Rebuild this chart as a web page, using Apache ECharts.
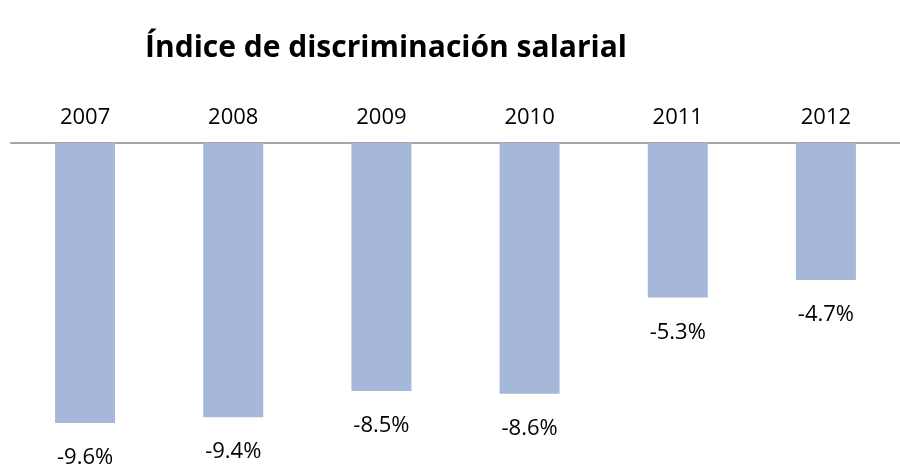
<!DOCTYPE html>
<html lang="es">
<head>
    <meta charset="UTF-8">
    <title>Índice de discriminación salarial</title>
    <style>
        body { margin: 0; padding: 0; background: #fff; }
        #chart { width: 900px; height: 464px; }
    </style>
    <script src="https://cdn.jsdelivr.net/npm/echarts@6/dist/echarts.min.js"></script>
</head>
<body>
<div id="chart"></div>
<script>
    var years = ['2007', '2008', '2009', '2010', '2011', '2012'];
    var indice = [-9.6, -9.4, -8.5, -8.6, -5.3, -4.7];

    var chart = echarts.init(document.getElementById('chart'));

    var option = {
        backgroundColor: '#fff',
        animation: false,
        title: {
            text: 'Índice de discriminación salarial',
            left: 140,
            top: 28,
            textStyle: {
                fontFamily: 'Open Sans',
                fontWeight: 'bold',
                fontSize: 30,
                color: '#000'
            }
        },
        grid: {
            left: 11,
            width: 900,
            top: 143,
            height: 291.7
        },
        xAxis: {
            type: 'category',
            position: 'top',
            data: years,
            axisLine: { lineStyle: { color: '#a6a6a6', width: 2 } },
            axisTick: { show: false },
            axisLabel: {
                margin: 14,
                fontFamily: 'Open Sans',
                fontSize: 22,
                color: '#000'
            }
        },
        yAxis: {
            type: 'value',
            min: -10,
            max: 0,
            show: false,
            splitLine: { show: false }
        },
        series: [{
            type: 'bar',
            data: indice,
            barWidth: 60,
            itemStyle: { color: '#a5b8d9' },
            label: {
                show: true,
                position: 'bottom',
                distance: 24,
                fontFamily: 'Open Sans',
                fontSize: 22,
                color: '#000',
                formatter: function (p) { return p.value.toFixed(1) + '%'; }
            }
        }]
    };
    chart.setOption(option);
    window.onresize = chart.resize;
</script>
</body>
</html>
